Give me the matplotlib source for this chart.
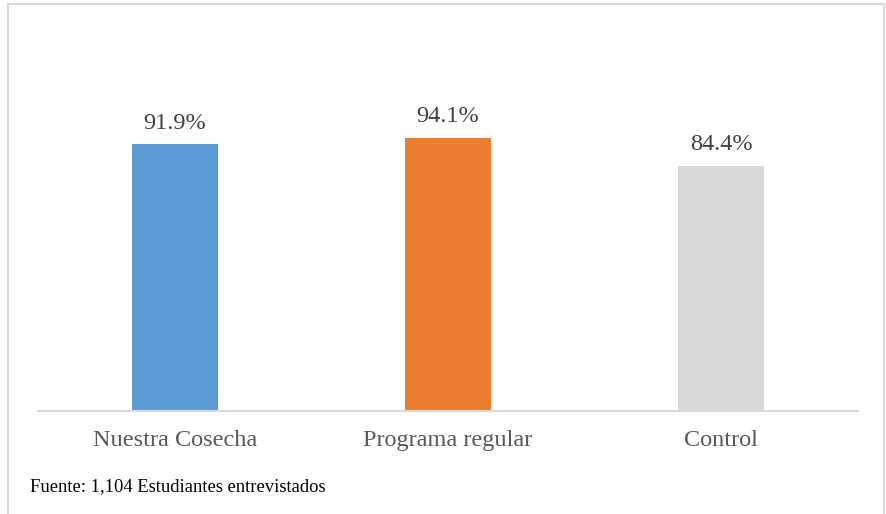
import matplotlib.pyplot as plt
from matplotlib.patches import Rectangle

categories = ["Nuestra Cosecha", "Programa regular", "Control"]
values = [91.9, 94.1, 84.4]
labels = ["91.9%", "94.1%", "84.4%"]
colors = ["#5b9bd5", "#ed7d31", "#d9d9d9"]
source = "Fuente: 1,104 Estudiantes entrevistados"

plt.rcParams['font.family'] = ['Liberation Serif', 'DejaVu Serif']

fig = plt.figure(figsize=(8.87, 5.14), dpi=100)
ax = fig.add_axes([38 / 887, 103 / 514, 820 / 887, 290 / 514])

x = range(len(categories))
bars = ax.bar(x, values, width=0.315, color=colors)
ax.set_xlim(-0.5, 2.5)
ax.set_ylim(0, 100)

for b, lab in zip(bars, labels):
    ax.annotate(lab, (b.get_x() + b.get_width() / 2, b.get_height()),
                xytext=(0, 11.5), textcoords="offset points",
                ha="center", va="baseline", fontsize=17.5, color="#404040")

ax.set_xticks(list(x))
ax.set_xticklabels(categories, fontsize=17.5, color="#595959")
ax.tick_params(axis="x", length=0, pad=14)
ax.set_yticks([])
for s in ["top", "right", "left"]:
    ax.spines[s].set_visible(False)
ax.spines["bottom"].set_color("#d9d9d9")
ax.spines["bottom"].set_linewidth(1.5)

fig.text(30 / 887, 1 - 487 / 514, source, fontsize=13.4, color="black",
         ha="left", va="center")

# outer chart border
fig.patches.append(Rectangle((8 / 887, -0.05), 876 / 887, 1 - 4 / 514 + 0.05,
                             transform=fig.transFigure, fill=False,
                             edgecolor="#d9d9d9", linewidth=1.5))

fig.savefig("out.png", dpi=100)
